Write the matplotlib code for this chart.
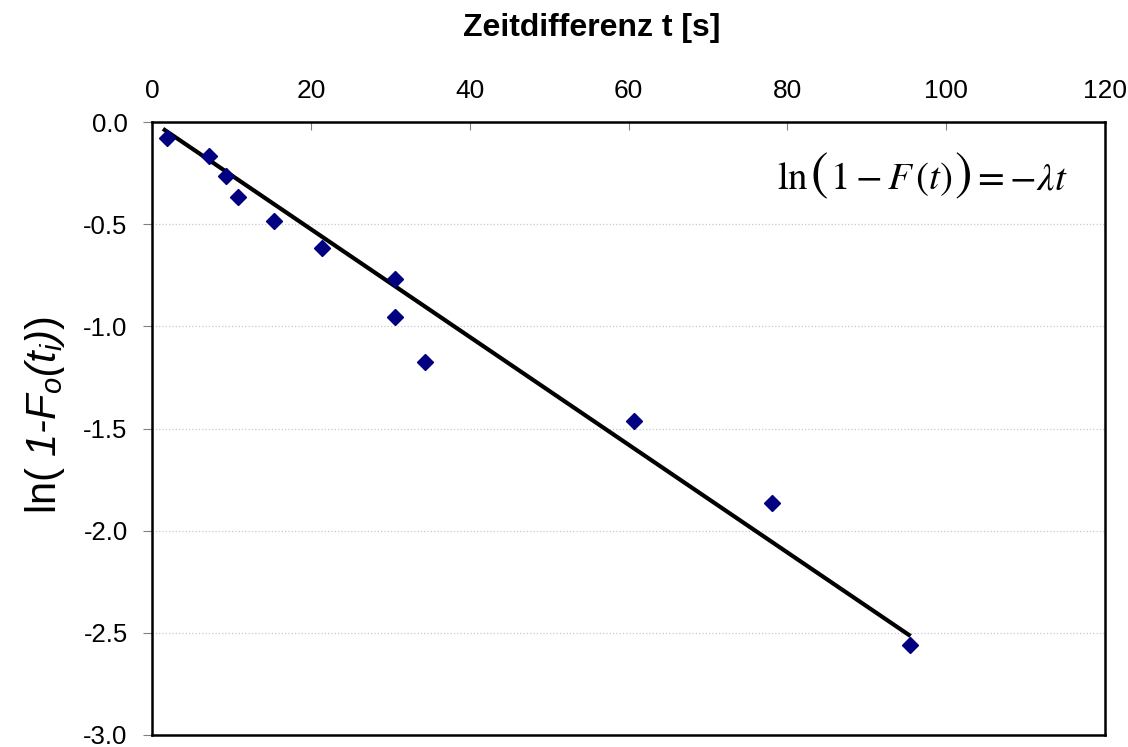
import numpy as np
import matplotlib
matplotlib.use("Agg")
import matplotlib.pyplot as plt
from matplotlib.offsetbox import TextArea, HPacker, AnnotationBbox

plt.rcParams["font.family"] = ["Liberation Sans", "DejaVu Sans"]
plt.rcParams["mathtext.fontset"] = "custom"
plt.rcParams["mathtext.rm"] = "Liberation Sans:italic"
plt.rcParams["mathtext.it"] = "Liberation Sans:italic"

# measured points
t = [1.9, 7.2, 9.3, 10.8, 15.4, 21.4, 30.6, 30.6, 34.4, 60.7, 78.1, 95.5]
ln_f = [-0.078, -0.166, -0.264, -0.367, -0.485, -0.617, -0.768, -0.954,
        -1.175, -1.464, -1.865, -2.56]

# fitted line ends
fit_t = [1.6, 95.3]
fit_y = [-0.039, -2.51]

xticks = [0, 20, 40, 60, 80, 100, 120]
yticks = [0.0, -0.5, -1.0, -1.5, -2.0, -2.5, -3.0]

fig = plt.figure(figsize=(11.28, 7.47), dpi=100)
ax = fig.add_axes([152/1128, 1 - 735/747, (1105-152)/1128, (735-122)/747])

ax.plot(fit_t, fit_y, color="black", linewidth=3.0, zorder=3)
ax.plot(t, ln_f, linestyle="none", marker="D", markersize=8.5,
        color="#000080", zorder=4)

ax.set_xlim(0, 120)
ax.set_ylim(-3.0, 0.0)
ax.xaxis.tick_top()
ax.xaxis.set_label_position("top")
ax.set_xticks(xticks)
ax.set_yticks(yticks)
ax.set_xticklabels([str(v) for v in xticks], fontsize=19)
ax.set_yticklabels(["%.1f" % v for v in yticks], fontsize=18.5)
ax.tick_params(axis="x", direction="in", length=6, color="gray", pad=14)
ax.tick_params(axis="y", direction="out", length=6.5, color="gray", pad=11)

ax.grid(axis="y", color="#c8c8c8", linestyle=":", linewidth=0.9)
for s in ax.spines.values():
    s.set_color("black")
    s.set_linewidth(1.8)

fig.text(592/1128, 1 - 28/747, "Zeitdifferenz t [s]", fontsize=23,
         fontweight="bold", ha="center", va="center")
ax.set_ylabel(r"ln( $1\text{-}F_o(t_i)$)", fontsize=30)
ax.yaxis.set_label_coords(-0.089, 0.522)

# equation with tall brackets, built from pieces
small = dict(fontsize=28, math_fontfamily="stix")
big = dict(fontsize=38, math_fontfamily="stix")
parts = [
    TextArea(r"$\mathrm{ln}$", textprops=small),
    TextArea(r"$($", textprops=big),
    TextArea(r"$1-F\,(t)$", textprops=small),
    TextArea(r"$)$", textprops=big),
    TextArea(r"$=-\lambda t$", textprops=small),
]
eq = HPacker(children=parts, align="baseline", pad=0, sep=1)
ab = AnnotationBbox(eq, (0.961, 0.913), xycoords="axes fraction",
                    box_alignment=(1, 0.5), frameon=False, pad=0)
ax.add_artist(ab)

fig.savefig("out.png", dpi=100)
